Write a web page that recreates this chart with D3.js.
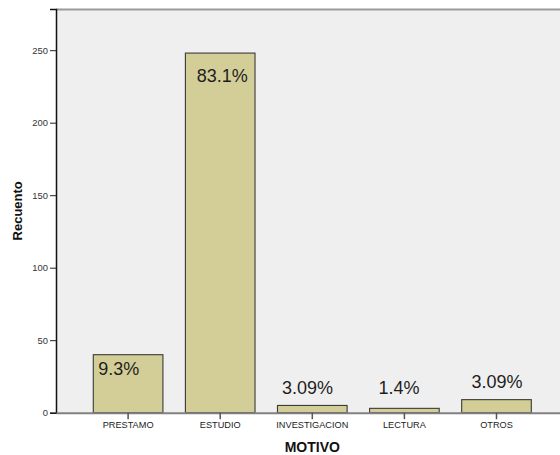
<!DOCTYPE html>
<html>
<head>
<meta charset="utf-8">
<script src="https://cdn.jsdelivr.net/npm/d3@7"></script>
<style>
  html, body { margin: 0; padding: 0; background: #ffffff; overflow: hidden; }
  svg { display: block; font-family: "Liberation Sans", Arial, sans-serif; }
</style>
</head>
<body>
<svg id="chart" width="560" height="455"></svg>
<script>
// Motivo de visita: recuento por categoría y porcentaje rotulado
const categories = ["PRESTAMO", "ESTUDIO", "INVESTIGACION", "LECTURA", "OTROS"];
const counts = [40, 248, 5, 3, 9];
const percents = [9.3, 83.1, 3.09, 1.4, 3.09];
const yTicks = [0, 50, 100, 150, 200, 250];
const xTitle = "MOTIVO";
const yTitle = "Recuento";

const svg = d3.select("#chart");

// Plot frame (extends past the right edge of the window)
const plotL = 56, plotR = 568.6, plotT = 9, plotB = 412.7;

const x = d3.scaleBand()
  .domain(categories)
  .range([plotL, plotR])
  .paddingInner(0.244)
  .paddingOuter(0.405);

const y = d3.scaleLinear()
  .domain([0, 278.4])
  .range([plotB, plotT]);

// Plot background
svg.append("rect")
  .attr("x", plotL).attr("y", plotT)
  .attr("width", plotR - plotL).attr("height", plotB - plotT)
  .attr("fill", "#efefef");

// Top border
svg.append("line")
  .attr("x1", plotL).attr("x2", plotR)
  .attr("y1", plotT + 0.5).attr("y2", plotT + 0.5)
  .attr("stroke", "#9a9a9a").attr("stroke-width", 2);

// Bars
const rows = categories.map((c, i) => ({ cat: c, n: counts[i], pct: percents[i] }));

svg.append("g").selectAll("rect")
  .data(rows)
  .join("rect")
  .attr("x", d => x(d.cat))
  .attr("y", d => y(d.n))
  .attr("width", x.bandwidth())
  .attr("height", d => y(0) - y(d.n))
  .attr("fill", "#d3ce97")
  .attr("stroke", "#3a3a3a")
  .attr("stroke-width", 1.1);

// Percentage labels: inside tall bars, above short ones
const labelNudge = [[5, 20.7], [11.4, 29], [4.4, -11.3], [9, -14], [9.7, -11.6]];
svg.append("g").selectAll("text")
  .data(rows)
  .join("text")
  .attr("x", (d, i) => x(d.cat) + labelNudge[i][0])
  .attr("y", (d, i) => y(d.n) + labelNudge[i][1])
  .attr("font-size", 18)
  .attr("fill", "#1e1e1e")
  .text(d => d.pct + "%");

// Y axis
const yAxis = d3.axisLeft(y).tickValues(yTicks).tickSize(6).tickPadding(2);
const gy = svg.append("g")
  .attr("transform", `translate(${plotL},0)`)
  .call(yAxis);
gy.select(".domain").attr("stroke", "#111").attr("stroke-width", 1.5);
gy.selectAll(".tick line").attr("stroke", "#222");
gy.selectAll(".tick text")
  .attr("font-size", 9.4)
  .attr("fill", "#333")
  .attr("font-family", "'Liberation Sans', Arial, sans-serif");

// X axis
const xAxis = d3.axisBottom(x).tickSize(6.5).tickPadding(2.5).tickSizeOuter(0);
const gx = svg.append("g")
  .attr("transform", `translate(0,${plotB})`)
  .call(xAxis);
gx.select(".domain").attr("stroke", "#808080").attr("stroke-width", 2);
gx.selectAll(".tick line").attr("stroke", "#555").attr("stroke-width", 1.5);
gx.selectAll(".tick text")
  .attr("font-size", 9.2)
  .attr("fill", "#222")
  .attr("font-family", "'Liberation Sans', Arial, sans-serif");

// Axis titles
svg.append("text")
  .attr("x", (plotL + plotR) / 2)
  .attr("y", 451.5)
  .attr("text-anchor", "middle")
  .attr("font-size", 14)
  .attr("font-weight", "bold")
  .attr("fill", "#111")
  .text(xTitle);

svg.append("text")
  .attr("transform", `translate(22,${(plotT + plotB) / 2}) rotate(-90)`)
  .attr("text-anchor", "middle")
  .attr("font-size", 13)
  .attr("font-weight", "bold")
  .attr("fill", "#111")
  .text(yTitle);
</script>
</body>
</html>
